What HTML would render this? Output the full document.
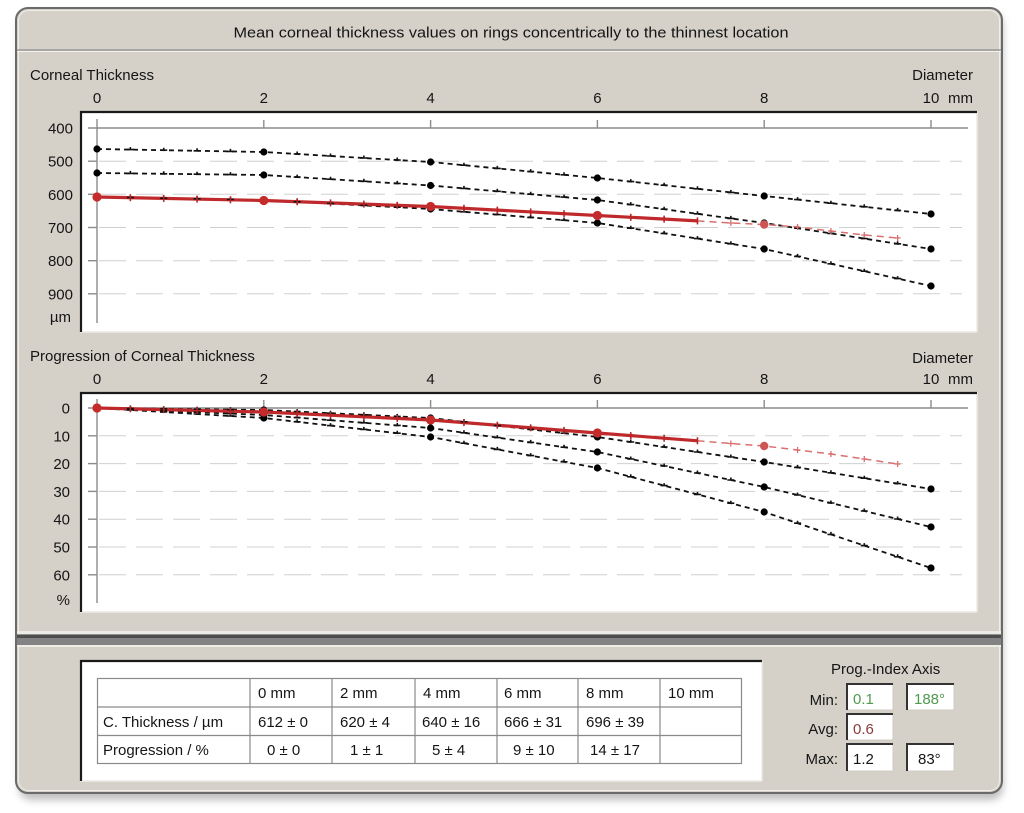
<!DOCTYPE html>
<html><head><meta charset="utf-8">
<style>
html,body{margin:0;padding:0;background:#fff;width:1024px;height:813px;overflow:hidden}
svg{display:block}
text{font-family:"Liberation Sans",Arial,sans-serif;font-size:15px;fill:#151515}
</style></head><body>
<svg width="1024" height="813" viewBox="0 0 1024 813" xmlns="http://www.w3.org/2000/svg">
<defs>
<filter id="sh" x="-5%" y="-5%" width="110%" height="115%"><feGaussianBlur stdDeviation="4"/></filter>
</defs>
<!-- frame -->
<rect x="19" y="13" width="984" height="787" rx="12" fill="#8a8a8a" opacity="0.55" filter="url(#sh)"/>
<rect x="16" y="8" width="986" height="785" rx="12" fill="#d5d1c9" stroke="#6a6a6a" stroke-width="2"/>
<rect x="18.5" y="10.5" width="981" height="780" rx="10" fill="none" stroke="#efede8" stroke-width="1"/>
<line x1="17" y1="50" x2="1001" y2="50" stroke="#8c8c8c" stroke-width="1.2"/>
<line x1="17" y1="51.5" x2="1001" y2="51.5" stroke="#f4f2ee" stroke-width="1"/>
<text x="511" y="37.5" text-anchor="middle" textLength="555" lengthAdjust="spacingAndGlyphs">Mean corneal thickness values on rings concentrically to the thinnest location</text>

<!-- top plot -->
<text x="30" y="80">Corneal Thickness</text>
<text x="973" y="80" text-anchor="end">Diameter</text>
<text x="97" y="103" text-anchor="middle">0</text>
<text x="263.8" y="103" text-anchor="middle">2</text>
<text x="430.6" y="103" text-anchor="middle">4</text>
<text x="597.4" y="103" text-anchor="middle">6</text>
<text x="764.2" y="103" text-anchor="middle">8</text>
<text x="931" y="103" text-anchor="middle">10</text>
<text x="948" y="103">mm</text>
<text x="73" y="133.5" text-anchor="end">400</text>
<text x="73" y="166.7" text-anchor="end">500</text>
<text x="73" y="199.8" text-anchor="end">600</text>
<text x="73" y="233" text-anchor="end">700</text>
<text x="73" y="266.2" text-anchor="end">800</text>
<text x="73" y="299.3" text-anchor="end">900</text>
<text x="71" y="322" text-anchor="end">µm</text>

<rect x="80" y="111" width="897" height="221" fill="#fff"/>
<line x1="977" y1="111" x2="977" y2="332" stroke="#eceae5" stroke-width="1.5"/>
<line x1="80" y1="332" x2="977" y2="332" stroke="#eceae5" stroke-width="1.5"/>
<line x1="80" y1="112" x2="977" y2="112" stroke="#1a1a1a" stroke-width="2.2"/>
<line x1="81" y1="111" x2="81" y2="332" stroke="#1a1a1a" stroke-width="2.2"/>
<g stroke="#d0d0d0" stroke-width="1" stroke-dasharray="27 10">
<line x1="99" y1="161.2" x2="962" y2="161.2"/>
<line x1="99" y1="194.3" x2="962" y2="194.3"/>
<line x1="99" y1="227.5" x2="962" y2="227.5"/>
<line x1="99" y1="260.7" x2="962" y2="260.7"/>
<line x1="99" y1="293.8" x2="962" y2="293.8"/>
</g>
<g stroke="#8c8c8c" stroke-width="1.4">
<line x1="88" y1="128" x2="968" y2="128"/>
<line x1="97" y1="119" x2="97" y2="323"/>
<line x1="263.8" y1="120" x2="263.8" y2="128"/>
<line x1="430.6" y1="120" x2="430.6" y2="128"/>
<line x1="597.4" y1="120" x2="597.4" y2="128"/>
<line x1="764.2" y1="120" x2="764.2" y2="128"/>
<line x1="931" y1="120" x2="931" y2="128"/>
<line x1="88" y1="161.2" x2="97" y2="161.2"/>
<line x1="88" y1="194.3" x2="97" y2="194.3"/>
<line x1="88" y1="227.5" x2="97" y2="227.5"/>
<line x1="88" y1="260.7" x2="97" y2="260.7"/>
<line x1="88" y1="293.8" x2="97" y2="293.8"/>
</g>
<g fill="none" stroke="#111" stroke-width="1.8" stroke-dasharray="5 4">
<polyline points="97,149 263.8,152 430.6,162 597.4,178 764.2,196 931,214"/>
<polyline points="97,173 263.8,175 430.6,185.5 597.4,200 764.2,223 931,249"/>
<polyline points="97,197 263.8,200 430.6,209 597.4,223 764.2,249 931,286"/>
</g>
<polyline points="97,197 263.8,200.5 430.6,206.5 597.4,215.5 697.5,220.9" fill="none" stroke="#c0292b" stroke-width="3.2"/>
<polyline points="697.5,220.9 730.8,223 764.2,224.5 797.6,227 830.9,231 864.3,235 897.6,238" fill="none" stroke="#d87070" stroke-width="1.5" stroke-dasharray="7 5"/>

<!-- bottom plot -->
<text x="30" y="361">Progression of Corneal Thickness</text>
<text x="973" y="363" text-anchor="end">Diameter</text>
<text x="97" y="384" text-anchor="middle">0</text>
<text x="263.8" y="384" text-anchor="middle">2</text>
<text x="430.6" y="384" text-anchor="middle">4</text>
<text x="597.4" y="384" text-anchor="middle">6</text>
<text x="764.2" y="384" text-anchor="middle">8</text>
<text x="931" y="384" text-anchor="middle">10</text>
<text x="948" y="384">mm</text>
<text x="70" y="413.5" text-anchor="end">0</text>
<text x="70" y="441.3" text-anchor="end">10</text>
<text x="70" y="469.1" text-anchor="end">20</text>
<text x="70" y="496.9" text-anchor="end">30</text>
<text x="70" y="524.7" text-anchor="end">40</text>
<text x="70" y="552.5" text-anchor="end">50</text>
<text x="70" y="580.3" text-anchor="end">60</text>
<text x="70" y="605" text-anchor="end">%</text>

<rect x="80" y="392" width="897" height="220" fill="#fff"/>
<line x1="977" y1="392" x2="977" y2="612" stroke="#eceae5" stroke-width="1.5"/>
<line x1="80" y1="612" x2="977" y2="612" stroke="#eceae5" stroke-width="1.5"/>
<line x1="80" y1="393" x2="977" y2="393" stroke="#1a1a1a" stroke-width="2.2"/>
<line x1="81" y1="392" x2="81" y2="612" stroke="#1a1a1a" stroke-width="2.2"/>
<g stroke="#d0d0d0" stroke-width="1" stroke-dasharray="27 10">
<line x1="99" y1="435.8" x2="962" y2="435.8"/>
<line x1="99" y1="463.6" x2="962" y2="463.6"/>
<line x1="99" y1="491.4" x2="962" y2="491.4"/>
<line x1="99" y1="519.2" x2="962" y2="519.2"/>
<line x1="99" y1="547" x2="962" y2="547"/>
<line x1="99" y1="574.8" x2="962" y2="574.8"/>
</g>
<g stroke="#8c8c8c" stroke-width="1.4">
<line x1="88" y1="408" x2="968" y2="408"/>
<line x1="97" y1="399" x2="97" y2="603"/>
<line x1="263.8" y1="400" x2="263.8" y2="408"/>
<line x1="430.6" y1="400" x2="430.6" y2="408"/>
<line x1="597.4" y1="400" x2="597.4" y2="408"/>
<line x1="764.2" y1="400" x2="764.2" y2="408"/>
<line x1="931" y1="400" x2="931" y2="408"/>
<line x1="88" y1="435.8" x2="97" y2="435.8"/>
<line x1="88" y1="463.6" x2="97" y2="463.6"/>
<line x1="88" y1="491.4" x2="97" y2="491.4"/>
<line x1="88" y1="519.2" x2="97" y2="519.2"/>
<line x1="88" y1="547" x2="97" y2="547"/>
<line x1="88" y1="574.8" x2="97" y2="574.8"/>
</g>
<g fill="none" stroke="#111" stroke-width="1.8" stroke-dasharray="5 4">
<polyline points="97,408 263.8,410 430.6,418 597.4,437 764.2,462 931,489"/>
<polyline points="97,408 263.8,415 430.6,428 597.4,452 764.2,487 931,527"/>
<polyline points="97,408 263.8,418 430.6,437 597.4,468 764.2,512 931,568"/>
</g>
<polyline points="97,408 263.8,412 430.6,420 597.4,433 697.5,440.8" fill="none" stroke="#c0292b" stroke-width="3.2"/>
<polyline points="697.5,440.8 730.8,443.5 764.2,446 797.6,450 830.9,454 864.3,459 897.6,464" fill="none" stroke="#d87070" stroke-width="1.5" stroke-dasharray="7 5"/>

<g id="mk"></g>

<!-- divider band -->
<rect x="17" y="631" width="984" height="3" fill="#ecebe6"/>
<rect x="17" y="634.5" width="984" height="3.5" fill="#4e4e4e"/>
<rect x="17" y="638" width="984" height="7" fill="#838383"/>
<rect x="17" y="645" width="984" height="2" fill="#efede8"/>

<!-- table container -->
<rect x="80" y="660" width="682" height="121" fill="#fff"/>
<line x1="762" y1="660" x2="762" y2="781" stroke="#eceae5" stroke-width="1.5"/>
<line x1="80" y1="781" x2="762" y2="781" stroke="#eceae5" stroke-width="1.5"/>
<line x1="80" y1="661" x2="762" y2="661" stroke="#1a1a1a" stroke-width="2.2"/>
<line x1="81" y1="660" x2="81" y2="781" stroke="#1a1a1a" stroke-width="2.2"/>
<g stroke="#8a8a8a" stroke-width="1.2" fill="none">
<rect x="97.5" y="678.5" width="644" height="85"/>
<line x1="97.5" y1="707" x2="741.5" y2="707"/>
<line x1="97.5" y1="735.5" x2="741.5" y2="735.5"/>
<line x1="250" y1="678.5" x2="250" y2="763.5"/>
<line x1="332" y1="678.5" x2="332" y2="763.5"/>
<line x1="415" y1="678.5" x2="415" y2="763.5"/>
<line x1="497" y1="678.5" x2="497" y2="763.5"/>
<line x1="578" y1="678.5" x2="578" y2="763.5"/>
<line x1="660" y1="678.5" x2="660" y2="763.5"/>
</g>
<text x="258" y="698">0 mm</text>
<text x="340" y="698">2 mm</text>
<text x="423" y="698">4 mm</text>
<text x="504" y="698">6 mm</text>
<text x="586" y="698">8 mm</text>
<text x="668" y="698">10 mm</text>
<text x="103" y="727">C. Thickness / µm</text>
<text x="258" y="727">612 ± 0</text>
<text x="340" y="727">620 ± 4</text>
<text x="422" y="727">640 ± 16</text>
<text x="504" y="727">666 ± 31</text>
<text x="586" y="727">696 ± 39</text>
<text x="103" y="755">Progression / %</text>
<text x="267" y="755">0 ± 0</text>
<text x="350" y="755">1 ± 1</text>
<text x="432" y="755">5 ± 4</text>
<text x="513" y="755">9 ± 10</text>
<text x="590" y="755">14 ± 17</text>

<!-- right panel -->
<text x="831" y="674">Prog.-Index Axis</text>
<text x="838" y="705" text-anchor="end">Min:</text>
<text x="838" y="734" text-anchor="end">Avg:</text>
<text x="838" y="764" text-anchor="end">Max:</text>
<g>
<rect x="847" y="684" width="46" height="26" fill="#fff" stroke="#cfccc4"/>
<path d="M847 710 V684 H893" fill="none" stroke="#333" stroke-width="2"/>
<rect x="907" y="684" width="47" height="26" fill="#fff" stroke="#cfccc4"/>
<path d="M907 710 V684 H954" fill="none" stroke="#333" stroke-width="2"/>
<rect x="847" y="714" width="46" height="26" fill="#fff" stroke="#cfccc4"/>
<path d="M847 740 V714 H893" fill="none" stroke="#333" stroke-width="2"/>
<rect x="847" y="744" width="46" height="27" fill="#fff" stroke="#cfccc4"/>
<path d="M847 771 V744 H893" fill="none" stroke="#333" stroke-width="2"/>
<rect x="907" y="744" width="47" height="27" fill="#fff" stroke="#cfccc4"/>
<path d="M907 771 V744 H954" fill="none" stroke="#333" stroke-width="2"/>
</g>
<text x="853" y="704" style="fill:#4f9a4f">0.1</text>
<text x="914" y="704" style="fill:#4f9a4f">188°</text>
<text x="853" y="734" style="fill:#8a3b3b">0.6</text>
<text x="853" y="764">1.2</text>
<text x="918" y="764">83°</text>
</svg>
<script>
(function(){
var NS="http://www.w3.org/2000/svg",g=document.getElementById('mk');
function X(d){return 97+83.4*d;}
function Y(a,d){var i=Math.min(Math.floor(d/2+1e-9),a.length-2),t=(d-2*i)/2;return a[i]+(a[i+1]-a[i])*t;}
function el(n,at){var e=document.createElementNS(NS,n);for(var k in at)e.setAttribute(k,at[k]);g.appendChild(e);}
var blk=[[149,152,162,178,196,214],[173,175,185.5,200,223,249],[197,200,209,223,249,286],
[408,410,418,437,462,489],[408,415,428,452,487,527],[408,418,437,468,512,568]];
blk.forEach(function(a){for(var k=0;k<=25;k++){var d=k*0.4,x=X(d),y=Y(a,d);
 if(k%5==0) el('circle',{cx:x,cy:y,r:3.6,fill:'#000'});
 else el('path',{d:'M'+(x-3.5)+' '+y+'h7M'+x+' '+y+'v-2.5',stroke:'#111','stroke-width':1.6,fill:'none'});}});
var red=[[197,200.5,206.5,215.5,224.5],[408,412,420,433,446]];
var rd=[[[7.6,223],[8.4,227],[8.8,231],[9.2,235],[9.6,238]],[[7.6,443.5],[8.4,450],[8.8,454],[9.2,459],[9.6,464]]];
red.forEach(function(a,j){
 for(var k=0;k<=18;k++){var d=k*0.4,x=X(d),y=Y(a,d);
  if(k%5==0) el('circle',{cx:x,cy:y,r:4.6,fill:'#c42b2b'});
  else el('path',{d:'M'+x+' '+(y-3.5)+'v7',stroke:'#b52525','stroke-width':1.6});}
 el('circle',{cx:X(8),cy:a[4],r:4.2,fill:'#cf5555'});
 rd[j].forEach(function(p){var x=X(p[0]);el('path',{d:'M'+x+' '+(p[1]-3)+'v6M'+(x-3)+' '+p[1]+'h6',stroke:'#d87070','stroke-width':1.3,fill:'none'});});
});
})();
</script>
</body></html>
